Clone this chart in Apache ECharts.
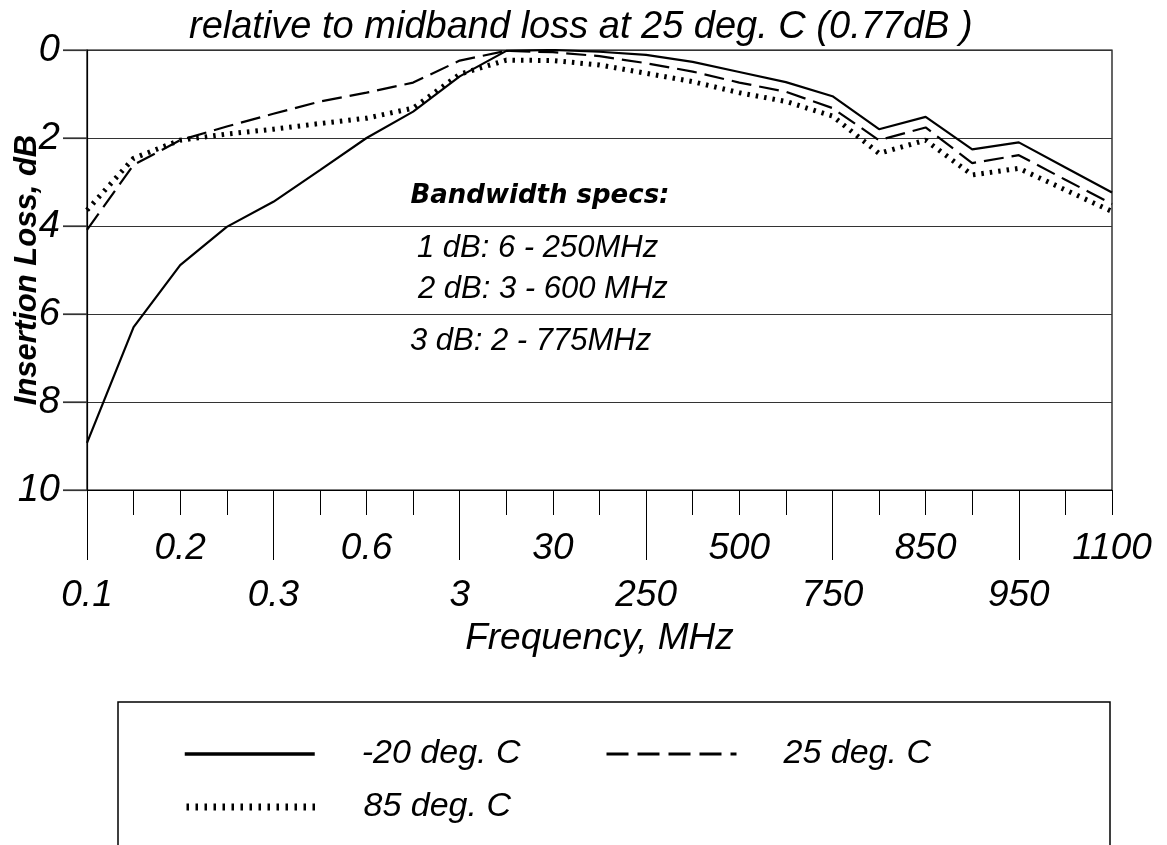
<!DOCTYPE html>
<html><head><meta charset="utf-8">
<script src="https://cdn.jsdelivr.net/npm/echarts@6/dist/echarts.min.js"></script>
<style>html,body{margin:0;padding:0;background:#fff}#c{width:1167px;height:845px}</style>
</head><body><div id="c"></div>
<script>
// Frequency categories (MHz); only every other one is labelled on the axis
const categories = ['0.1','0.15','0.2','0.25','0.3','0.45','0.6','1','3','10','30','100','250','400','500','600','750','800','850','900','950','1000','1100'];
// Insertion loss relative to midband (dB)
const lossMinus20 = [8.93,6.3,4.89,4.02,3.45,2.73,2.0,1.4,0.6,0.02,0.0,0.04,0.11,0.27,0.5,0.73,1.05,1.8,1.52,2.26,2.1,2.67,3.24];
const loss25 = [4.09,2.61,2.05,1.74,1.45,1.17,0.97,0.74,0.24,0.02,0.05,0.14,0.3,0.49,0.74,0.95,1.32,2.05,1.76,2.57,2.39,2.95,3.5];
const loss85 = [3.64,2.46,2.05,1.91,1.8,1.67,1.55,1.32,0.55,0.23,0.24,0.34,0.53,0.72,0.97,1.17,1.5,2.35,2.05,2.84,2.69,3.18,3.67];
const seriesNames = ['-20 deg. C','25 deg. C','85 deg. C'];
const yTicks = [0,2,4,6,8,10];
const titleText = 'relative to midband loss at 25 deg. C (0.77dB )';
const specTitle = 'Bandwidth specs:';
const specLines = ['1 dB: 6 - 250MHz','2 dB: 3 - 600 MHz','3 dB: 2 - 775MHz'];
const xName = 'Frequency, MHz';
const yName = 'Insertion Loss, dB';

const FF = "'Liberation Sans', Arial, sans-serif";
const chart = echarts.init(document.getElementById('c'), null, {renderer:'canvas'});

const styles = [
  {type:'solid', width:2.2},
  {type:[20,8], width:2.2},
  {type:[2.5,6], width:5}
];
const legendStyles = [
  {type:'solid', width:3.5},
  {type:[22,9], width:3},
  {type:[2.5,6.5], width:7}
];
const legendPos = [[178,732],[600,732],[178,785]];
const GRID_LEFT = 87, TICK_LEN = 24;

const staticGraphics = [
  {type:'text', x:540, y:196, style:{text:specTitle, fill:'#000', font:"italic bold 26px 'DejaVu Sans'", align:'center', verticalAlign:'middle'}},
  {type:'text', x:417, y:248, style:{text:specLines[0], fill:'#000', font:"italic 31px 'Liberation Sans'", align:'left', verticalAlign:'middle'}},
  {type:'text', x:418, y:289, style:{text:specLines[1], fill:'#000', font:"italic 31px 'Liberation Sans'", align:'left', verticalAlign:'middle'}},
  {type:'text', x:410, y:341, style:{text:specLines[2], fill:'#000', font:"italic 31px 'Liberation Sans'", align:'left', verticalAlign:'middle'}},
  {type:'rect', shape:{x:118, y:702, width:992, height:200}, style:{fill:'none', stroke:'#000', lineWidth:1.5}, z:-1}
];

const option = {
  backgroundColor:'#fff',
  animation:false,
  title:{text:titleText, left:184, top:3, textStyle:{fontFamily:FF, fontSize:38, fontStyle:'italic', fontWeight:'normal', color:'#000'}},
  grid:{left:GRID_LEFT, right:55, top:50, bottom:355, show:true, borderColor:'#000', borderWidth:1.2, backgroundColor:'transparent', containLabel:false, outerBoundsMode:'none'},
  legend: seriesNames.map((n,i)=>({
    data:[n], left:legendPos[i][0], top:legendPos[i][1], itemWidth:130, itemHeight:14,
    lineStyle:{color:'#000', width:legendStyles[i].width, type:legendStyles[i].type},
    itemStyle:{opacity:0},
    textStyle:{fontFamily:FF, fontSize:34, fontStyle:'italic', color:'#000', padding:[0,0,0,42]},
    selectedMode:false
  })),
  xAxis:[
    {type:'category', data:categories, boundaryGap:false, gridIndex:0, position:'bottom',
     axisLine:{show:true, onZero:false, lineStyle:{color:'#000', width:1.2}},
     axisTick:{show:true, inside:false, length:25, interval:0, lineStyle:{color:'#000', width:1}},
     axisLabel:{interval:(i)=>i%4===2, margin:40, fontFamily:FF, fontSize:37, fontStyle:'italic', color:'#000'},
     splitLine:{show:false}},
    {type:'category', data:categories, boundaryGap:false, gridIndex:0, position:'bottom',
     axisLine:{show:false, onZero:false},
     axisTick:{show:true, inside:false, length:70, interval:(i)=>i%4===0, lineStyle:{color:'#000', width:1}},
     axisLabel:{interval:(i)=>i%4===0, margin:87, fontFamily:FF, fontSize:37, fontStyle:'italic', color:'#000'},
     name:xName, nameLocation:'middle', nameGap:130, nameMoveOverlap:false,
     nameTextStyle:{fontFamily:FF, fontSize:37, fontStyle:'italic', color:'#000'},
     splitLine:{show:false}}
  ],
  yAxis:{type:'value', inverse:true, min:yTicks[0], max:yTicks[yTicks.length-1], interval:2,
    axisLine:{show:true, onZero:false, lineStyle:{color:'#000', width:1.2}},
    axisTick:{show:true, inside:false, length:TICK_LEN, lineStyle:{color:'#333', width:1.2}},
    splitLine:{show:true, lineStyle:{color:'#333', width:1.2}},
    axisLabel:{margin:27, fontFamily:FF, fontSize:38, fontStyle:'italic', color:'#000', padding:[0,0,24,0]},
    name:yName, nameLocation:'middle', nameGap:44, nameMoveOverlap:false,
    nameTextStyle:{fontFamily:FF, fontSize:31, fontStyle:'italic', fontWeight:'bold', color:'#000'}
  },
  series:[lossMinus20, loss25, loss85].map((d,i)=>({
    name:seriesNames[i], type:'line', data:d, symbol:'none', smooth:false,
    lineStyle:{color:'#000', width:styles[i].width, type:styles[i].type},
    itemStyle:{color:'#000'}, z:3-i
  })),
  graphic: staticGraphics
};
chart.setOption(option);

// outward y-axis ticks, positioned through the library's own y scale
const tickMarks = yTicks.map(v => {
  const py = chart.convertToPixel({yAxisIndex:0}, v);
  return {type:'line', shape:{x1:GRID_LEFT - TICK_LEN, y1:py, x2:GRID_LEFT, y2:py}, style:{stroke:'#333', lineWidth:1.2}};
});
chart.setOption({graphic: staticGraphics.concat(tickMarks)});
</script>
</body></html>
